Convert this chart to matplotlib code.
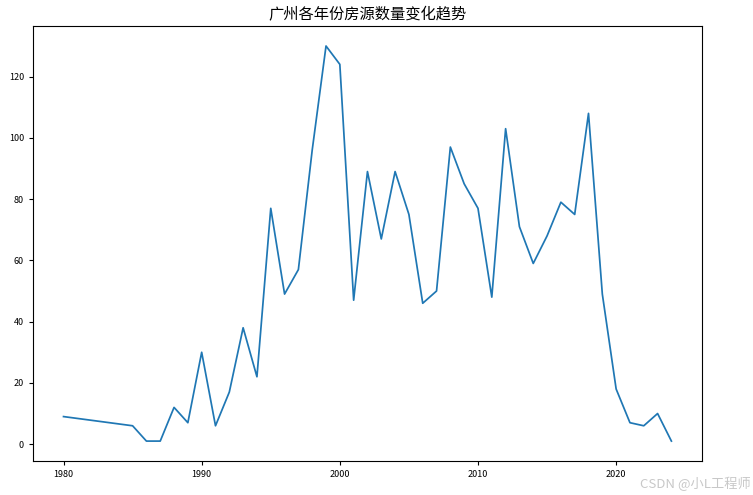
import matplotlib.pyplot as plt

plt.rcParams['font.family'] = ['Noto Sans CJK SC', 'DejaVu Sans']
plt.rcParams['axes.unicode_minus'] = False

years = [1980, 1985, 1986, 1987, 1988, 1989, 1990, 1991, 1992, 1993,
         1994, 1995, 1996, 1997, 1998, 1999, 2000, 2001, 2002, 2003,
         2004, 2005, 2006, 2007, 2008, 2009, 2010, 2011, 2012, 2013,
         2014, 2015, 2016, 2017, 2018, 2019, 2020, 2021, 2022, 2023, 2024]
counts = [9, 6, 1, 1, 12, 7, 30, 6, 17, 38,
          22, 77, 49, 57, 96, 130, 124, 47, 89, 67,
          89, 75, 46, 50, 97, 85, 77, 48, 103, 71,
          59, 68, 79, 75, 108, 49, 18, 7, 6, 10, 1]

fig, ax = plt.subplots(figsize=(7.53, 4.95), dpi=100)
fig.subplots_adjust(left=0.044, right=0.932, top=0.947, bottom=0.069)

ax.plot(years, counts, color='#1f77b4', linewidth=1.25)
ax.set_title("广州各年份房源数量变化趋势", fontsize=11, pad=5)
ax.tick_params(labelsize=6.5, length=3)

fig.text(0.997, 0.008, "CSDN @小L工程师", ha='right', va='bottom',
         fontsize=9.5, color='#c8c8c8')

plt.savefig("out.png")
